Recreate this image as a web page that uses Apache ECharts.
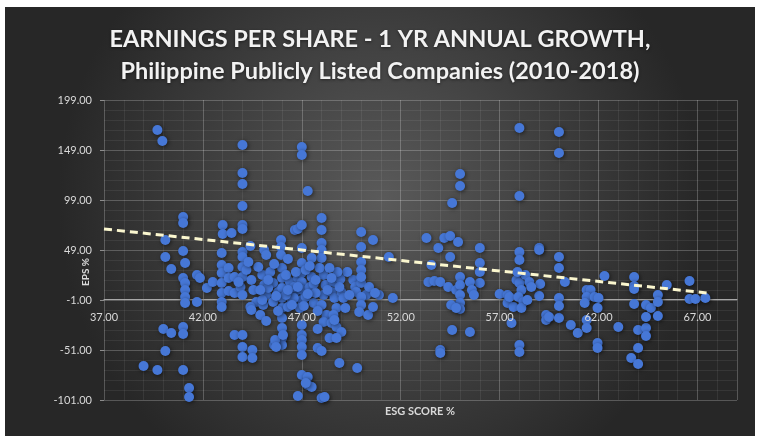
<!DOCTYPE html>
<html>
<head>
<meta charset="utf-8">
<script src="https://cdn.jsdelivr.net/npm/echarts@6/dist/echarts.min.js"></script>
<style>
html, body { margin: 0; padding: 0; background: #fff; }
#container { position: absolute; left: 5px; top: 7px; width: 750px; height: 429px; }
</style>
</head>
<body>
<div id="container"></div>
<script>
// ESG score (x) and 1 yr EPS growth (y)
var esgScore = [
  39.7, 39.95, 39.0, 39.7, 40.1, 40.0, 40.4, 41.0, 41.0, 41.0, 41.3, 41.3,
  40.1, 40.1, 40.4, 41.0, 41.0, 41.0, 41.1, 41.0, 41.1, 41.1, 41.1, 41.1,
  41.7, 41.85, 41.7, 42.2, 42.5, 42.95, 42.95, 42.95, 42.95, 42.95, 42.95, 42.95,
  43.0, 43.0, 43.45, 43.3, 43.3, 43.3, 43.6, 43.6, 43.9, 44.0,
  44.0, 44.0, 44.0, 44.0, 44.0, 44.0, 44.0, 44.0, 44.0, 44.0,
  44.4, 44.2, 44.45, 44.55, 44.7, 44.4, 44.45,
  43.6, 44.0, 44.0, 44.0, 44.5, 44.5,
  45.0, 45.1, 45.2, 45.05, 44.9, 45.2, 45.1, 45.2, 45.0, 45.55, 45.55, 45.8,
  45.95, 45.95, 45.95, 46.0, 46.0, 46.0, 46.0, 46.0, 46.0, 46.0, 46.0, 46.0,
  45.6, 45.65, 45.7, 46.05, 46.4, 46.65, 46.5, 46.8, 46.65, 46.8,
  47.0, 47.0, 47.0, 47.3, 47.0, 47.0, 47.0, 47.0, 47.0, 47.0, 47.0, 47.0,
  47.0, 47.0, 47.0, 47.0, 47.3, 47.3, 47.5, 46.8, 47.2, 48.0, 48.15,
  46.6, 46.6, 47.2, 47.4, 47.5, 47.6,
  48.0, 48.0, 48.0, 48.0, 48.0, 48.1, 48.2, 48.1, 48.0, 48.25, 48.1,
  48.6, 48.5, 48.65, 48.75, 48.6, 48.95, 49.0, 49.1, 49.2,
  48.5, 48.75, 49.0, 48.65, 48.4, 48.75, 47.8, 48.0, 48.9, 49.8,
  49.6, 49.7, 50.0, 49.75, 50.25, 50.4, 50.0, 50.0, 49.9, 50.35, 50.6, 50.9, 50.7,
  50.0, 50.0, 50.6, 51.4, 50.0, 50.0, 50.0, 51.6,
  45.4, 45.8, 46.2, 46.3, 46.7, 46.9, 47.1, 47.2, 47.8, 47.6, 47.7, 47.8,
  47.9, 46.2, 45.3, 44.8, 44.3, 49.3, 48.8, 48.4, 45.6, 46.3, 47.5,
  45.3, 45.7, 46.3, 46.8, 47.3, 47.7, 48.3, 48.9, 49.4, 43.8, 44.9, 46.5, 47.4, 48.5,
  53.3, 53.9, 54.2, 54.5, 54.9, 55.0, 55.0, 54.6, 54.5, 53.55,
  56.0, 56.0, 56.0, 56.0, 53.4, 53.7, 54.0, 54.4, 54.8,
  55.0, 55.0, 55.0, 55.0, 55.0, 55.5, 55.6, 55.7, 54.55, 54.8,
  54.6, 55.5, 54.0, 54.0,
  57.0, 57.4, 57.4, 57.7, 57.6, 57.5,
  58.0, 58.0, 58.0, 58.0, 57.85, 58.0, 58.3, 58.5, 58.1, 57.95, 58.2, 58.1,
  58.0, 58.0, 59.0, 59.0, 59.05, 59.0, 59.35, 59.35, 59.5, 60.0,
  60.0, 60.0, 60.0, 60.0, 60.0, 60.0, 60.3, 60.6, 60.95,
  61.4, 61.6, 61.4, 61.3, 61.8, 62.0, 61.95, 61.4, 61.4, 61.95, 61.95,
  62.3, 63.0, 63.8, 63.8, 63.8, 63.8,
  64.0, 64.4, 64.4, 64.0, 63.65, 64.0, 64.4, 64.65, 64.4,
  65.0, 65.0, 65.0, 65.45, 66.6, 66.6, 66.9, 67.4,
  58.6, 57.9, 58.4
];
var epsGrowth = [
  169, 158, -67, -71, -52, -30, -34, -28, -35, -71, -89, -98,
  59, 42, 30, 82, 76, 48, 36, 21, 16, 9, 2, -4,
  24, 21, -3, 11, 17, 46, 34, 26, 16, 6, -3, -8,
  74, 65, 66, 31, 21, 8, 22, 6, 12, 4,
  154, 126, 115, 93, 74, 70, 47, 42, 32, 22,
  53, 29, 19, 9, -3, -8, -11,
  -36, -36, -48, -58, -51, -59,
  24, 14, 4, -6, -16, -22, 49, 44, -1, 16, -3, 7,
  59, 52, 44, 31, 21, 11, 1, -9, -19, -29, -39, -46,
  -46, -41, -48, -36, 17, 7, -3, 21, 69, 70,
  74, 152, 144, 108, 51, 36, 26, 17, 9, -1, -26, -36,
  -41, -48, -56, -76, -78, -86, -88, -97, -84, -99, -98,
  12, 1, 2, 12, 22, -4,
  81, 69, 56, 49, 41, 24, 14, 4, -6, -16, -23,
  17, 7, 1, -9, -16, 20, 7, 1, -9,
  -24, -28, -33, -21, -39, -39, -49, -52, -64, -69,
  19, 12, 16, 7, 4, 12, 2, -6, -13, -16, -8, 4, 6,
  67, 52, 59, 42, 37, 29, 22, 1,
  27, -12, 24, -8, 27, -9, -7, 29, -30, 15, 6, -12,
  31, 4, 11, 32, 37, 27, 27, 31, 35, 40, 41,
  19, 3, 9, 12, 5, 19, 9, 12, 4, 17, 9, -6, 33, 21,
  61, 51, 61, 63, 57, 125, 113, 96, 42, 34,
  51, 36, 27, 16, 17, 18, 17, 12, 9,
  22, 14, 4, -4, -10, 17, 9, 4, -6, -9,
  -31, -33, -51, -54,
  5, 4, -4, -8, -24, 2,
  171, 103, 47, 39, 19, 16, 24, 17, 9, 2, -3, -9,
  -46, -53, 51, 49, 15, 3, -16, -21, -18, -19,
  167, 146, 42, 31, 1, -7, 17, -26, -34,
  9, 9, 2, -4, 2, 1, -9, -21, -29, -44, -49,
  23, -28, 22, 13, 10, -5,
  -31, -29, -37, -49, -59, -65, -6, -9, -18,
  4, -3, -17, 14, 18, 0, 0, 1,
  12, 27, -1
];

// linear trend line
var trendX = [37, 67.5];
var trendY = [70, 6];

// axis ranges and tick labels
var xMin = 37, xMax = 69, xStep = 5;
var yMin = -101, yMax = 199, yStep = 50;
var xTickLabels = ['37.00', '42.00', '47.00', '52.00', '57.00', '62.00', '67.00'];
var yTickLabels = ['-101.00', '-51.00', '-1.00', '49.00', '99.00', '149.00', '199.00'];

var points = esgScore.map(function (x, i) { return [x, epsGrowth[i]]; });
var trend = trendX.map(function (x, i) { return [x, trendY[i]]; });

var labelFont = 'Lato';
var option = {
  animation: false,
  backgroundColor: {
    type: 'radial', x: 0.5, y: 0.45, r: 0.75,
    colorStops: [{ offset: 0, color: '#5a5a5a' }, { offset: 1, color: '#272727' }]
  },
  title: {
    left: 'center',
    top: 11,
    text: 'EARNINGS PER SHARE - 1 YR ANNUAL GROWTH,\nPhilippine Publicly Listed Companies (2010-2018)',
    textStyle: {
      color: '#f2f2f2',
      fontSize: 23.5,
      fontWeight: 'bold',
      fontFamily: labelFont,
      lineHeight: 32,
      textShadowColor: 'rgba(0,0,0,0.5)',
      textShadowBlur: 3,
      textShadowOffsetY: 1
    }
  },
  grid: { left: 99, right: 18, top: 93, bottom: 36 },
  graphic: [
    {
      type: 'text', x: 81, y: 265, rotation: Math.PI / 2,
      style: { text: 'EPS %', fill: '#d9d9d9', font: 'bold 10px Lato', align: 'center', verticalAlign: 'middle' }
    },
    {
      type: 'text', x: 415, y: 404,
      style: { text: 'ESG SCORE %', fill: '#d9d9d9', font: 'bold 11px Lato', align: 'center', verticalAlign: 'middle' }
    }
  ],
  xAxis: [
    {
      // minor grid
      type: 'value', min: xMin, max: xMax, interval: 1, position: 'bottom',
      axisLine: { show: false }, axisTick: { show: false }, axisLabel: { show: false },
      splitLine: { lineStyle: { color: 'rgba(255,255,255,0.07)', width: 1 } }
    },
    {
      // major grid + axis line crossing at -1
      type: 'value', min: xMin, max: xMax, interval: xStep, position: 'bottom',
      offset: -100,
      axisLine: { show: true, lineStyle: { color: '#a8a8a8', width: 1 } },
      axisTick: { show: false },
      axisLabel: { show: false },
      splitLine: { lineStyle: { color: 'rgba(255,255,255,0.17)', width: 1 } }
    },
    {
      // tick labels, drawn over the points
      type: 'value', min: xMin, max: xMax, interval: xStep, position: 'bottom',
      offset: -100, z: 10,
      axisLine: { show: false }, axisTick: { show: false }, splitLine: { show: false },
      axisLabel: {
        color: '#d9d9d9', fontSize: 11, fontFamily: labelFont, margin: 12,
        formatter: function (v) {
          var s = v.toFixed(2);
          return xTickLabels.indexOf(s) >= 0 ? s : '';
        }
      }
    }
  ],
  yAxis: [
    {
      type: 'value', min: yMin, max: yMax, interval: 10, position: 'left',
      axisLine: { show: false }, axisTick: { show: false }, axisLabel: { show: false },
      splitLine: { lineStyle: { color: 'rgba(255,255,255,0.07)', width: 1 } }
    },
    {
      type: 'value', min: yMin, max: yMax, interval: yStep, position: 'left',
      axisLine: { show: false },
      axisTick: { show: true, length: 4, lineStyle: { color: '#8c8c8c' } },
      axisLabel: {
        color: '#d9d9d9', fontSize: 11, fontFamily: labelFont, margin: 12,
        formatter: function (v) {
          var s = v.toFixed(2);
          return yTickLabels.indexOf(s) >= 0 ? s : '';
        }
      },
      splitLine: { lineStyle: { color: 'rgba(255,255,255,0.17)', width: 1 } }
    }
  ],
  series: [
    {
      type: 'scatter',
      xAxisIndex: 0, yAxisIndex: 0,
      symbolSize: 10,
      data: points,
      itemStyle: {
        color: '#4677d6',
        opacity: 1,
        shadowBlur: 4,
        shadowColor: 'rgba(0,0,0,0.55)',
        shadowOffsetX: 1,
        shadowOffsetY: 1
      },
      z: 2
    },
    {
      type: 'line',
      xAxisIndex: 0, yAxisIndex: 0,
      data: trend,
      symbol: 'none',
      lineStyle: { color: '#fbf7cf', width: 3, type: [8, 5] },
      z: 3
    }
  ]
};

var myChart = echarts.init(document.getElementById('container'), null, { renderer: 'canvas' });
myChart.setOption(option);
</script>
</body>
</html>
